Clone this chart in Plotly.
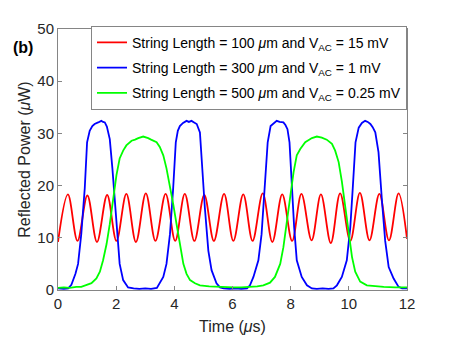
import plotly.graph_objects as go

# Red trace: 100 um string, V_AC = 15 mV (alternating troughs / peaks)
red_t = [0.0, 0.34, 0.67, 1.01, 1.34, 1.69, 2.01, 2.35, 2.68, 3.02, 3.35, 3.70,
         4.03, 4.36, 4.69, 5.03, 5.36, 5.71, 6.03, 6.37, 6.69, 7.04, 7.37, 7.71,
         8.05, 8.37, 8.72, 9.04, 9.38, 9.70, 10.05, 10.38, 10.71, 11.05, 11.38,
         11.71, 12.0]
red_p = [9.2, 18.3, 9.4, 18.1, 9.2, 18.2, 9.4, 18.4, 9.2, 18.5, 9.4, 18.4,
         9.4, 18.4, 9.4, 18.2, 9.4, 18.4, 9.4, 18.3, 9.4, 18.5, 9.2, 18.3,
         9.4, 18.4, 9.5, 18.3, 9.0, 18.5, 9.4, 18.6, 9.5, 18.4, 9.5,
         18.5, 9.8]

# Blue trace: 300 um string, V_AC = 1 mV
blue_t = [0.0, 0.2, 0.35, 0.46, 0.6, 0.69, 0.8, 0.92, 1.0, 1.09, 1.18, 1.26,
          1.38, 1.49, 1.55, 1.61, 1.68, 1.72, 1.78, 1.87, 1.95, 2.03, 2.12,
          2.24, 2.41, 2.6, 2.8, 3.0, 3.2, 3.4, 3.5, 3.62, 3.73, 3.85, 3.96,
          4.05, 4.12, 4.19, 4.3, 4.42, 4.5, 4.59, 4.68, 4.77, 4.88, 4.96, 5.05,
          5.17, 5.28, 5.45, 5.57, 5.7, 5.9, 6.1, 6.3, 6.5, 6.6, 6.72, 6.89,
          7.0, 7.12, 7.21, 7.31, 7.42, 7.52, 7.62, 7.75, 7.82, 7.89, 7.96,
          8.04, 8.12, 8.21, 8.38, 8.56, 8.73, 8.9, 9.1, 9.3, 9.47, 9.59, 9.76,
          9.93, 10.05, 10.14, 10.23, 10.34, 10.45, 10.56, 10.65, 10.74, 10.82,
          10.91, 11.02, 11.14, 11.25, 11.37, 11.54, 11.71, 11.83, 12.0]
blue_p = [0.3, 0.2, 0.3, 1.0, 3.1, 5.0, 10.7, 19.5, 28.3, 30.5, 31.4, 31.8,
          32.1, 32.4, 32.2, 32.1, 31.3, 30.5, 28.9, 23.3, 17.0, 10.7, 5.0,
          1.9, 0.5, 0.3, 0.2, 0.3, 0.2, 0.4, 1.3, 2.5, 5.0, 10.7, 19.5,
          28.3, 30.5, 31.4, 32.0, 32.4, 32.2, 32.4, 32.1, 31.8, 30.2, 23.3, 15.7,
          7.5, 3.8, 1.3, 0.5, 0.3, 0.2, 0.3, 0.2, 0.3, 0.9, 2.5, 5.7,
          10.7, 20.0, 28.3, 31.4, 32.0, 32.4, 32.2, 32.1, 31.6, 30.8, 28.3,
          20.0, 12.0, 5.7, 2.5, 0.9, 0.3, 0.2, 0.3, 0.2, 0.3, 0.9, 2.5,
          5.7, 12.0, 20.0, 28.3, 31.1, 32.0, 32.4, 32.2, 31.8, 31.2,
          30.2, 26.4, 17.0, 9.4, 4.4, 2.2, 0.6, 0.3, 0.3]

# Green trace: 500 um string, V_AC = 0.25 mV
green_t = [0.0, 0.2, 0.4, 0.63, 0.8, 0.98, 1.15, 1.32, 1.44, 1.55, 1.67, 1.78,
           1.89, 2.01, 2.12, 2.24, 2.35, 2.53, 2.65, 2.76, 2.93, 3.0, 3.1, 3.2,
           3.27, 3.39, 3.5, 3.62, 3.73, 3.85, 3.96, 4.08, 4.19, 4.31, 4.42,
           4.54, 4.71, 4.88, 5.2, 5.45, 5.75, 6.03, 6.3, 6.6, 6.85, 7.06, 7.29,
           7.46, 7.64, 7.75, 7.87, 7.98, 8.1, 8.21, 8.33, 8.5, 8.62, 8.73, 8.9,
           9.07, 9.24, 9.42, 9.53, 9.65, 9.76, 9.88, 9.99, 10.11, 10.22, 10.39,
           10.62, 10.9, 11.2, 11.6, 12.0]
green_p = [0.4, 0.5, 0.4, 0.6, 0.6, 0.9, 1.3, 2.2, 3.5, 5.7, 8.8, 12.6,
           17.6, 22.0, 25.2, 26.7, 27.7, 28.6, 28.8, 29.1, 29.4, 29.3, 29.1, 28.8,
           28.6, 28.3, 27.4, 25.8, 23.3, 20.0, 16.5, 12.5, 8.5, 5.0, 3.1,
           1.9, 1.3, 0.9, 0.7, 0.6, 0.5, 0.5, 0.5, 0.6, 0.7, 0.9, 1.4,
           2.5, 5.0, 8.2, 13.2, 18.2, 22.6, 25.8, 27.0, 28.3, 28.8, 29.1, 29.4,
           29.2, 28.8, 28.0, 26.7, 24.5, 20.8, 15.7, 10.7, 6.3, 3.5, 1.6,
           0.9, 0.7, 0.6, 0.5, 0.5]

labels = ['String Length = 100 <i>μ</i>m and V<sub>AC</sub> = 15 mV',
          'String Length = 300 <i>μ</i>m and V<sub>AC</sub> = 1 mV',
          'String Length = 500 <i>μ</i>m and V<sub>AC</sub> = 0.25 mV']

fig = go.Figure()
fig.add_trace(go.Scatter(x=red_t, y=red_p, mode='lines', name=labels[0], legendgroup='a',
                         line=dict(color='#ff0000', width=1.8, shape='spline', smoothing=1)))
fig.add_trace(go.Scatter(x=blue_t, y=blue_p, mode='lines', name=labels[1], legendgroup='b',
                         line=dict(color='#0000ff', width=1.8)))
fig.add_trace(go.Scatter(x=green_t, y=green_p, mode='lines', name=labels[2], legendgroup='c',
                         line=dict(color='#00ff00', width=1.8)))

axis_style = dict(showgrid=False, zeroline=False, showline=True, linecolor='#858585',
                  linewidth=1, mirror='ticks', ticks='inside', ticklen=4,
                  tickcolor='#858585', tickfont=dict(size=15, color='#262626'))

fig.update_xaxes(range=[0, 12], tickvals=[0, 2, 4, 6, 8, 10, 12],
                 title=dict(text='Time (<i>μ</i>s)', font=dict(size=16, color='#262626'), standoff=9),
                 **axis_style)
fig.update_yaxes(range=[0, 50], tickvals=[0, 10, 20, 30, 40, 50],
                 title=dict(text='Reflected Power (<i>μ</i>W)', font=dict(size=16, color='#262626'), standoff=2),
                 **axis_style)

fig.add_annotation(text='<b>(b)</b>', xref='paper', yref='paper', x=-0.1, y=0.93,
                   xanchor='center', yanchor='middle', showarrow=False,
                   font=dict(size=16, color='#000000'))

# page body has an 8px margin, so the margins are shifted to compensate
fig.update_layout(
    width=450, height=337,
    margin=dict(l=50, r=51, t=17, b=55),
    paper_bgcolor='white', plot_bgcolor='white',
    font=dict(family='Liberation Sans, Arial, sans-serif', color='#262626'),
    legend=dict(x=1, y=1.012, xanchor='right', yanchor='top', bgcolor='white',
                bordercolor='#858585', borderwidth=1, font=dict(size=14, color='#000000'),
                itemwidth=30, tracegroupgap=4),
    showlegend=True,
)

fig.write_html('out.html')
